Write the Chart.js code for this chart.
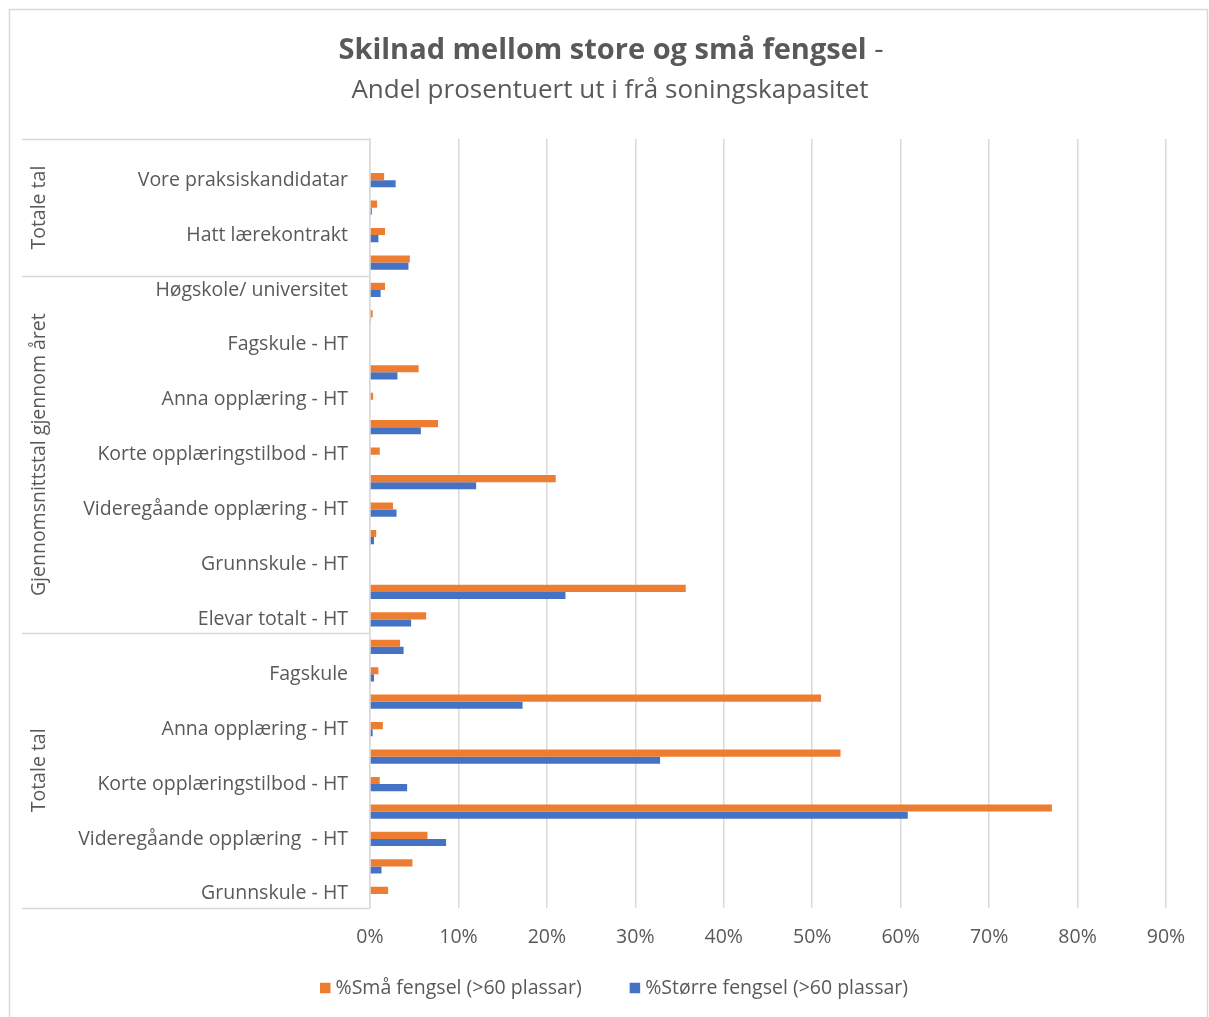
<!DOCTYPE html>
<html>
<head>
<meta charset="utf-8">
<script src="https://cdn.jsdelivr.net/npm/chart.js@4.4.1/dist/chart.umd.min.js"></script>
<style>
  html, body { margin: 0; padding: 0; background: #fff; }
  #wrap { width: 1209px; height: 1017px; }
</style>
</head>
<body>
<div id="wrap"><canvas id="myChart" width="1209" height="1017"></canvas></div>
<script>
// every second label is hidden in the original (Excel skips them), so they stay blank here
const categories = ['', 'Vore praksiskandidatar', '', 'Hatt lærekontrakt', '', 'Høgskole/ universitet', '',
  'Fagskule - HT', '', 'Anna opplæring - HT', '', 'Korte opplæringstilbod - HT', '',
  'Videregåande opplæring - HT', '', 'Grunnskule - HT', '', 'Elevar totalt - HT', '',
  'Fagskule', '', 'Anna opplæring - HT', '', 'Korte opplæringstilbod - HT', '',
  'Videregåande opplæring  - HT', '', 'Grunnskule - HT'];

const smaFengsel = [null, 1.6, 0.8, 1.7, 4.5, 1.7, 0.3, null, 5.5, 0.35, 7.7, 1.1, 21.0, 2.6, 0.7, null,
  35.7, 6.35, 3.4, 0.95, 51.0, 1.45, 53.2, 1.1, 77.1, 6.5, 4.8, 2.05];
const storreFengsel = [null, 2.9, 0.2, 0.95, 4.35, 1.2, 0.1, null, 3.1, null, 5.75, null, 12.0, 3.0, 0.45, null,
  22.1, 4.65, 3.8, 0.45, 17.25, 0.3, 32.8, 4.2, 60.8, 8.6, 1.3, null];

const groupNames = ['Totale tal', 'Gjennomsnittstal gjennom året', 'Totale tal'];
const groupStarts = [0, 5, 18];

const xTicks = [0, 10, 20, 30, 40, 50, 60, 70, 80, 90];

const grey = '#595959';
const lineGrey = '#D9D9D9';
const fontName = 'Open Sans';

// title, frame, legend and the grouped category boxes on the left
const extras = {
  id: 'extras',
  afterDraw(chart) {
    const ctx = chart.ctx;
    const y = chart.scales.y;
    const area = chart.chartArea;
    ctx.save();

    ctx.strokeStyle = lineGrey;
    ctx.lineWidth = 1.5;
    ctx.strokeRect(9.5, 9.5, 1198, 1020);

    // title
    ctx.fillStyle = grey;
    ctx.textBaseline = 'middle';
    ctx.font = 'bold 29px ' + fontName;
    let t1 = 'Skilnad mellom store og små fengsel';
    let w1 = ctx.measureText(t1).width;
    ctx.font = '29px ' + fontName;
    let w2 = ctx.measureText(' -').width;
    let x0 = 611 - (w1 + w2) / 2;
    ctx.font = 'bold 29px ' + fontName;
    ctx.textAlign = 'left';
    ctx.fillText(t1, x0, 51);
    ctx.font = '29px ' + fontName;
    ctx.fillText(' -', x0 + w1, 51);
    ctx.font = '26px ' + fontName;
    ctx.textAlign = 'center';
    ctx.fillText('Andel prosentuert ut i frå soningskapasitet', 610, 91);

    // legend
    ctx.font = '19.5px ' + fontName;
    ctx.textAlign = 'left';
    const items = chart.data.datasets.map(d => ({ text: d.label, color: d.backgroundColor, w: ctx.measureText(d.label).width }));
    const box = 10.5, gap = 5, space = 48;
    let total = items.reduce((s, it) => s + box + gap + it.w, 0) + space * (items.length - 1);
    let lx = 614 - total / 2;
    items.forEach(it => {
      ctx.fillStyle = it.color;
      ctx.fillRect(lx, 988 - box / 2, box, box);
      ctx.fillStyle = grey;
      ctx.fillText(it.text, lx + box + gap, 988);
      lx += box + gap + it.w + space;
    });

    // group boxes
    const n = categories.length;
    const edge = i => {
      if (i <= 0) return area.top;
      if (i >= n) return area.bottom;
      return (y.getPixelForValue(i - 1) + y.getPixelForValue(i)) / 2;
    };
    const bounds = groupStarts.concat([n]);
    ctx.strokeStyle = lineGrey;
    ctx.lineWidth = 1.5;
    bounds.forEach(b => {
      const py = Math.round(edge(b)) + 0.5;
      ctx.beginPath();
      ctx.moveTo(22, py);
      ctx.lineTo(area.left, py);
      ctx.stroke();
    });
    ctx.font = '19.5px ' + fontName;
    ctx.fillStyle = grey;
    ctx.textAlign = 'center';
    groupNames.forEach((g, i) => {
      const mid = (edge(bounds[i]) + edge(bounds[i + 1])) / 2;
      ctx.save();
      ctx.translate(39, mid);
      ctx.rotate(-Math.PI / 2);
      ctx.fillText(g, 0, 0);
      ctx.restore();
    });
    ctx.restore();
  }
};

new Chart('myChart', {
  type: 'bar',
  data: {
    labels: categories,
    datasets: [
      { label: '%Små fengsel (>60 plassar)', data: smaFengsel, backgroundColor: '#ED7D31' },
      { label: '%Større fengsel (>60 plassar)', data: storreFengsel, backgroundColor: '#4472C4' }
    ]
  },
  options: {
    indexAxis: 'y',
    responsive: false,
    animation: false,
    categoryPercentage: 0.52,
    barPercentage: 1,
    layout: { padding: { top: 139, left: 0, right: 43, bottom: 50 } },
    scales: {
      x: {
        min: 0,
        max: 90,
        afterBuildTicks: s => { s.ticks = xTicks.map(v => ({ value: v })); },
        ticks: {
          callback: v => v + '%',
          color: grey,
          font: { family: fontName, size: 19.5 },
          padding: 18,
          maxRotation: 0
        },
        grid: { color: lineGrey, lineWidth: 1.5, drawTicks: false },
        border: { display: false }
      },
      y: {
        afterFit: s => { s.width = 370; },
        ticks: {
          autoSkip: false,
          color: grey,
          font: { family: fontName, size: 19.5 },
          padding: 22
        },
        grid: { display: false, drawTicks: false },
        border: { display: true, color: lineGrey, width: 1.5 }
      }
    },
    plugins: {
      legend: { display: false },
      tooltip: { enabled: false }
    }
  },
  plugins: [extras]
});
</script>
</body>
</html>
